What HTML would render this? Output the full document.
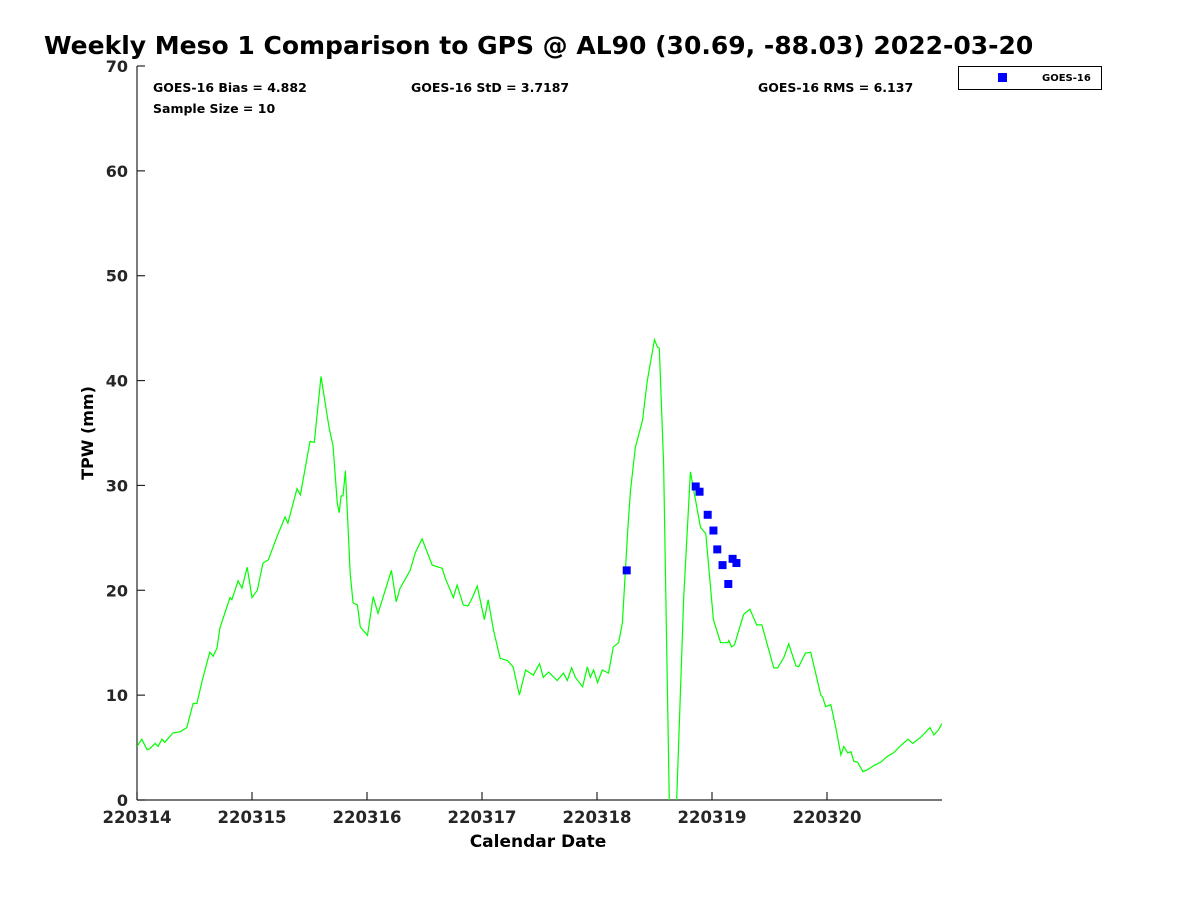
<!DOCTYPE html>
<html><head><meta charset="utf-8"><style>
body{margin:0;background:#fff;}
svg{display:block;font-family:"DejaVu Sans","Liberation Sans",sans-serif;}
</style></head><body>
<svg id="chart" width="1200" height="900" viewBox="0 0 1200 900">
<text x="44" y="54" font-size="25" font-weight="bold">Weekly Meso 1 Comparison to GPS @ AL90 (30.69, -88.03) 2022-03-20</text>
<g font-size="12.5" font-weight="bold">
<text x="153" y="92">GOES-16 Bias = 4.882</text>
<text x="411" y="92">GOES-16 StD = 3.7187</text>
<text x="758" y="92">GOES-16 RMS = 6.137</text>
<text x="153" y="113">Sample Size = 10</text>
</g>
<g>
<rect x="958.5" y="66.5" width="143" height="23" fill="#fff" stroke="#000" stroke-width="1"/>
<rect x="998" y="73" width="9" height="9" fill="#0000ff"/>
<text x="1042" y="81" font-size="10" font-weight="bold">GOES-16</text>
</g>
<defs><clipPath id="plotclip"><rect x="137" y="66" width="805" height="734"/></clipPath></defs>
<g id="axes"></g>
<g id="series" clip-path="url(#plotclip)"></g>
<text x="538" y="847" font-size="17" font-weight="bold" text-anchor="middle">Calendar Date</text>
<text transform="translate(93,433) rotate(-90)" font-size="16" font-weight="bold" text-anchor="middle">TPW (mm)</text>
</svg>
<script>
const gpsHours=[0,1.0,2.1,2.7,3.8,4.4,5.2,5.8,7.5,9.0,10.4,11.7,12.5,13.6,15.2,15.9,16.7,17.3,19.4,19.8,21.1,21.9,23.0,24.0,25.1,26.3,27.4,29.2,30.9,31.5,33.4,34.1,36.1,37.0,38.4,40.1,40.9,41.8,42.2,42.6,43.0,43.5,44.5,45.1,46.0,46.6,48.1,49.3,50.3,53.1,54.1,54.9,57.0,58.1,59.5,61.6,63.7,64.3,66.0,66.8,68.1,69.1,70.0,71.0,72.5,73.3,74.4,75.8,77.3,78.5,79.8,81.1,82.7,84.0,84.8,85.9,87.7,89.0,89.8,90.7,91.5,93.0,94.0,94.6,95.3,96.1,97.1,98.4,99.4,100.5,101.3,102.4,103.0,104.0,105.5,106.5,108.0,108.6,109.0,109.9,111.2,112.4,114.1,115.5,117.6,118.7,120.3,121.8,123.3,123.5,124.1,124.7,126.6,127.9,129.3,130.4,132.9,133.7,135.0,136.0,137.5,138.1,139.5,140.6,142.7,143.1,143.7,144.8,145.8,146.9,147.5,148.3,149.0,149.6,150.4,151.5,152.5,153.8,155.2,156.7,157.9,159.4,160.9,161.9,163.6,165.5,166.3,167.3,168.2];
const gpsValues=[5.1,5.8,4.8,4.9,5.4,5.1,5.8,5.5,6.4,6.5,6.9,9.2,9.2,11.4,14.1,13.7,14.5,16.4,19.3,19.1,20.9,20.2,22.2,19.3,20.0,22.6,22.9,25.1,27.0,26.4,29.7,29.1,34.2,34.1,40.4,35.5,33.8,28.3,27.4,29.0,29.0,31.4,21.6,18.8,18.6,16.5,15.7,19.4,17.8,21.9,18.9,20.2,21.9,23.6,24.9,22.4,22.1,21.2,19.3,20.5,18.6,18.5,19.3,20.4,17.2,19.1,16.2,13.5,13.3,12.7,10.0,12.4,11.9,13.0,11.7,12.2,11.4,12.1,11.4,12.6,11.7,10.8,12.7,11.7,12.4,11.2,12.4,12.1,14.6,15.0,16.9,25.7,29.5,33.6,36.2,40.0,43.9,43.2,43.1,32.1,-3,-3,19.3,31.3,26.0,25.4,17.2,15.0,15.0,15.2,14.6,14.8,17.7,18.2,16.7,16.7,12.6,12.6,13.6,14.9,12.8,12.7,14.0,14.1,10.0,9.8,8.9,9.1,7.0,4.3,5.1,4.5,4.6,3.7,3.6,2.7,2.9,3.3,3.6,4.2,4.5,5.2,5.8,5.4,6.0,6.9,6.2,6.7,7.3];
const goesHours=[102.2,116.6,117.4,119.1,120.3,121.1,122.2,123.4,124.3,125.1];
const goesValues=[21.9,29.9,29.4,27.2,25.7,23.9,22.4,20.6,23.0,22.6];
const yTicks=[0,10,20,30,40,50,60,70];
const xTickLabels=["220314","220315","220316","220317","220318","220319","220320"];

const NS="http://www.w3.org/2000/svg";
const X0=137,X1=942,Y0=800,Y1=66;
const xs=h=>X0+(h/168)*(X1-X0);
const ys=v=>Y0-(v/70)*(Y0-Y1);
function mk(tag,attrs,parent){const e=document.createElementNS(NS,tag);for(const k in attrs)e.setAttribute(k,attrs[k]);parent.appendChild(e);return e;}
const axes=document.getElementById('axes');
const series=document.getElementById('series');

let ax=mk('line',{x1:X0,y1:Y1,x2:X0,y2:Y0,stroke:'#262626','stroke-width':1.2},axes);


let bx=mk('line',{x1:X0,y1:Y0,x2:X1,y2:Y0,stroke:'#262626','stroke-width':1.2},axes);



yTicks.forEach(v=>{
  const y=ys(v);
  const t=mk('line',{x1:X0,y1:y,x2:X0+8,y2:y,stroke:'#262626','stroke-width':1.2},axes);
  
  
  const l=mk('text',{x:X0-9,y:y+6,'font-size':16,'font-weight':'bold','text-anchor':'end',fill:'#262626'},axes);
  
  
  l.textContent=v;
});
xTickLabels.forEach((s,i)=>{
  const x=xs(i*24);
  const t=mk('line',{x1:x,y1:Y0,x2:x,y2:Y0-8,stroke:'#262626','stroke-width':1.2},axes);
  
  
  const l=mk('text',{x:x,y:Y0+23,'font-size':16.5,'font-weight':'bold','text-anchor':'middle',fill:'#262626'},axes);
  
  
  l.textContent=s;
});

const pts=gpsHours.map((h,i)=>xs(Math.min(h,168)).toFixed(1)+','+ys(gpsValues[i]).toFixed(1)).join(' ');
const line=mk('polyline',{points:pts,fill:'none',stroke:'#00ff00','stroke-width':1.2},series);



goesHours.forEach((h,i)=>{
  const r=mk('rect',{x:xs(h)-4,y:ys(goesValues[i])-4,width:8,height:8,fill:'#0000ff'},series);
  
  
});
</script>
</body></html>
